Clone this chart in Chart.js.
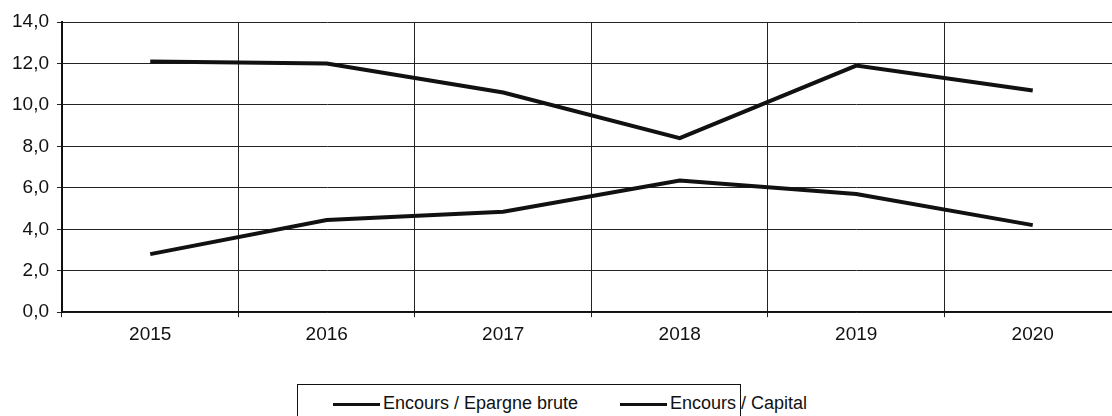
<!DOCTYPE html>
<html>
<head>
<meta charset="utf-8">
<script src="https://cdn.jsdelivr.net/npm/chart.js@4.4.1/dist/chart.umd.min.js"></script>
<style>
html, body { margin: 0; padding: 0; background: #fff; overflow: hidden; }
#wrap { position: absolute; left: 0; top: 0; width: 1121px; height: 360px; }
#legend {
    position: absolute; left: 297px; top: 384px; width: 444px; height: 40px;
    border: 1px solid #111; box-sizing: border-box;
    font-family: "Liberation Sans", Arial, sans-serif; font-size: 18px; color: #111;
}
.item { position: absolute; top: 7px; height: 22px; line-height: 22px; white-space: nowrap; }
.item span.line { display: inline-block; width: 47px; height: 3px; background: #111; vertical-align: middle; margin-right: 3px; }
</style>
</head>
<body>
<div id="wrap"><canvas id="myChart"></canvas></div>
<div id="legend">
    <div class="item" style="left:35px"><span class="line"></span><span id="lab0"></span></div>
    <div class="item" style="left:322px"><span class="line"></span><span id="lab1"></span></div>
</div>
<script>
// data
const years = ["2015", "2016", "2017", "2018", "2019", "2020"];
const seriesNames = ["Encours / Epargne brute", "Encours / Capital"];
const epargneBrute = [2.8, 4.45, 4.85, 6.35, 5.7, 4.2];
const capital = [12.1, 12.0, 10.6, 8.4, 11.9, 10.7];

document.getElementById('lab0').textContent = seriesNames[0];
document.getElementById('lab1').textContent = seriesNames[1];

const font = { family: "'Liberation Sans', Arial, sans-serif", size: 19 };

var ctx = document.getElementById('myChart').getContext('2d');
var chart = new Chart(ctx, {
    type: 'line',
    data: {
        labels: years,
        datasets: [{
            label: seriesNames[0],
            data: epargneBrute,
            borderColor: '#111',
            borderWidth: 4,
            pointRadius: 0,
            tension: 0
        }, {
            label: seriesNames[1],
            data: capital,
            borderColor: '#111',
            borderWidth: 4,
            pointRadius: 0,
            tension: 0
        }]
    },
    options: {
        responsive: true,
        maintainAspectRatio: false,
        animation: false,
        layout: { padding: { top: 22, left: 4, right: 0, bottom: 8 } },
        plugins: { legend: { display: false }, tooltip: { enabled: false } },
        scales: {
            x: {
                offset: true,
                grid: { offset: true, color: '#222', lineWidth: 1, tickLength: 5 },
                border: { color: '#111', width: 1.5 },
                ticks: { color: '#111', font: font, padding: 6, maxRotation: 0 }
            },
            y: {
                min: 0,
                max: 14,
                grid: { color: '#222', lineWidth: 1, tickLength: 5 },
                border: { color: '#111', width: 2 },
                ticks: {
                    stepSize: 2,
                    color: '#111',
                    font: font,
                    padding: 8,
                    callback: v => v.toFixed(1).replace('.', ',')
                }
            }
        }
    }
});
</script>
</body>
</html>
